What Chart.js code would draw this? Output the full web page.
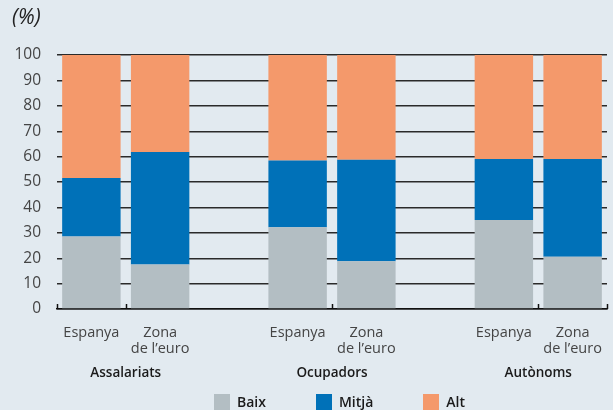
<!DOCTYPE html>
<html>
<head>
<meta charset="utf-8">
<script src="https://cdn.jsdelivr.net/npm/chart.js@4.4.1/dist/chart.umd.min.js"></script>
<style>
  html, body { margin: 0; padding: 0; background: #e2eaf0; }
  #wrap { position: relative; width: 613px; height: 410px; }
  #unit { position: absolute; left: 12px; top: 2px; font: italic 21px "Open Sans", sans-serif; color: #222; }
  #legend { position: absolute; left: 189px; top: 392px; display: flex; font: 600 14px "Open Sans", sans-serif; color: #1a1a1a; }
  #legend .it { display: flex; align-items: center; margin: 0 25px; }
  #legend .sw { width: 16px; height: 16px; margin-right: 7px; }
</style>
</head>
<body>
<div id="wrap">
  <canvas id="c" width="613" height="410"></canvas>
  <div id="unit">(%)</div>
  <div id="legend"></div>
</div>
<script>
const categories = ['Espanya', ['Zona', "de l\u2019euro"], '', 'Espanya', ['Zona', "de l\u2019euro"], '', 'Espanya', ['Zona', "de l\u2019euro"]];
const groups = ['Assalariats', 'Ocupadors', 'Aut\u00f2noms'];
const groupStartIndex = [0, 3, 6];
const seriesNames = ['Baix', 'Mitj\u00e0', 'Alt'];
const baix  = [28.5, 17.5, null, 32.2, 18.8, null, 35.0, 20.6];
const mitja = [23.1, 44.3, null, 26.3, 40.0, null, 24.1, 38.5];
const alt   = [48.4, 38.2, null, 41.5, 41.2, null, 40.9, 40.9];
const colors = ['#b3bec3', '#0071b8', '#f4996b'];
const tickBoundaries = [0, 1, 4, 7, 8];
const font = "'Open Sans', sans-serif";

const axisExtrasPlugin = {
  id: 'axisExtras',
  afterDraw(chart) {
    const x = chart.scales.x, ctx = chart.ctx;
    const slot = x.width / categories.length;
    ctx.save();
    ctx.strokeStyle = '#111';
    ctx.lineWidth = 1.5;
    tickBoundaries.forEach(i => {
      const px = Math.round(x.left + i * slot) + 0.5;
      ctx.beginPath();
      ctx.moveTo(px, x.top);
      ctx.lineTo(px, x.top - 5);
      ctx.stroke();
    });
    ctx.fillStyle = '#1a1a1a';
    ctx.font = "600 13.5px 'Open Sans', sans-serif";
    ctx.textAlign = 'center';
    ctx.textBaseline = 'middle';
    groups.forEach((g, k) => {
      const i = groupStartIndex[k];
      const cx = (x.getPixelForValue(i) + x.getPixelForValue(i + 1)) / 2;
      ctx.fillText(g, cx, x.bottom + 14);
    });
    ctx.restore();
  }
};

const chart = new Chart(document.getElementById('c'), {
  type: 'bar',
  data: {
    labels: categories,
    datasets: [baix, mitja, alt].map((d, i) => ({
      label: seriesNames[i], data: d, backgroundColor: colors[i],
      borderWidth: 0, categoryPercentage: 1, barPercentage: 0.85
    }))
  },
  options: {
    responsive: false,
    animation: false,
    layout: { padding: { left: 13, top: 55, right: 6, bottom: 51 } },
    plugins: { legend: { display: false }, tooltip: { enabled: false } },
    scales: {
      x: {
        stacked: true,
        grid: { display: false, drawTicks: false },
        border: { color: '#111', width: 1.5 },
        ticks: { color: '#444', font: { family: font, size: 14.5, weight: 400, lineHeight: 1.1 }, padding: 16, maxRotation: 0, autoSkip: false },
        afterFit(s) { s.height = 50; s.paddingLeft = 0; s.paddingRight = 0; }
      },
      y: {
        stacked: true, min: 0, max: 100,
        border: { display: false },
        grid: { color: '#2a2a2a', lineWidth: 1.4, drawTicks: false },
        ticks: { stepSize: 10, color: '#444', font: { family: font, size: 15.5, weight: 400 }, padding: 16 },
        afterFit(s) { s.width = 44; }
      }
    }
  },
  plugins: [axisExtrasPlugin]
});

const lg = document.getElementById('legend');
seriesNames.forEach((n, i) => {
  const it = document.createElement('div'); it.className = 'it';
  const sw = document.createElement('div'); sw.className = 'sw'; sw.style.background = colors[i];
  const t = document.createElement('span'); t.textContent = n;
  it.appendChild(sw); it.appendChild(t); lg.appendChild(it);
});
</script>
</body>
</html>
